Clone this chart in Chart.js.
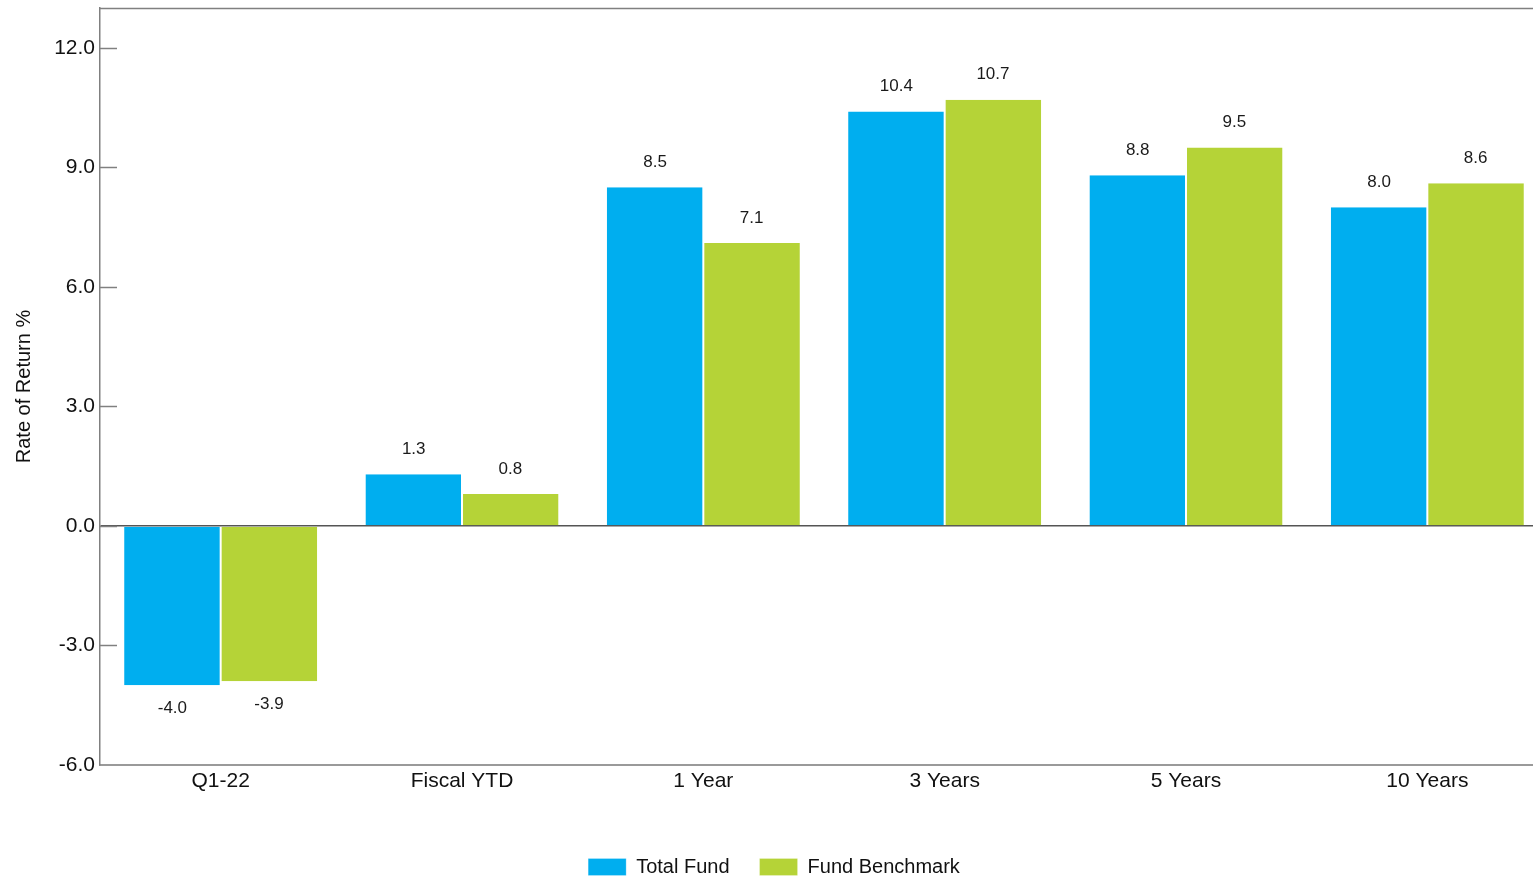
<!DOCTYPE html>
<html>
<head>
<meta charset="utf-8">
<script src="https://cdn.jsdelivr.net/npm/chart.js@4/dist/chart.umd.min.js"></script>
<style>
  html, body { margin: 0; padding: 0; background: #fff; overflow: hidden; }
  #wrap { width: 1548px; height: 879px; position: relative; }
</style>
</head>
<body>
<div id="wrap"><canvas id="chart"></canvas></div>
<script>
// Periods shown along the x axis
const periods = ['Q1-22', 'Fiscal YTD', '1 Year', '3 Years', '5 Years', '10 Years'];
// Rates of return (%) per period
const totalFund = [-4.0, 1.3, 8.5, 10.4, 8.8, 8.0];
const fundBenchmark = [-3.9, 0.8, 7.1, 10.7, 9.5, 8.6];
// Value axis range and tick step
const yMin = -6;
const yMax = 13;
const yStep = 3;

const FONT = '"Liberation Sans", Arial, sans-serif';

// Short inward tick marks on the value axis plus the top frame line
const frameAndTicks = {
  id: 'frameAndTicks',
  afterDraw(chart) {
    const { ctx, chartArea } = chart;
    const y = chart.scales.y;
    ctx.save();
    ctx.strokeStyle = '#808080';
    ctx.lineWidth = 1.5;
    y.ticks.forEach(t => {
      if (t.value === yMin) return;
      const py = Math.round(y.getPixelForValue(t.value)) + 0.5;
      ctx.beginPath();
      ctx.moveTo(chartArea.left, py);
      ctx.lineTo(chartArea.left + 17, py);
      ctx.stroke();
    });
    ctx.beginPath();
    ctx.moveTo(chartArea.left, chartArea.top + 0.5);
    ctx.lineTo(chartArea.right, chartArea.top + 0.5);
    ctx.stroke();
    ctx.restore();
  }
};

// Value labels above positive bars and below negative ones
const valueLabels = {
  id: 'valueLabels',
  afterDatasetsDraw(chart) {
    const { ctx } = chart;
    ctx.save();
    ctx.font = '17px ' + FONT;
    ctx.fillStyle = '#1a1a1a';
    ctx.textAlign = 'center';
    ctx.textBaseline = 'middle';
    chart.data.datasets.forEach((ds, i) => {
      chart.getDatasetMeta(i).data.forEach((bar, j) => {
        const v = ds.data[j];
        const ty = v >= 0 ? bar.y - 25 : bar.y + 23;
        ctx.fillText(v.toFixed(1), bar.x, ty);
      });
    });
    ctx.restore();
  }
};

new Chart(document.getElementById('chart'), {
  type: 'bar',
  data: {
    labels: periods,
    datasets: [
      {
        label: 'Total Fund',
        data: totalFund,
        backgroundColor: '#00AEEF',
        borderColor: '#ffffff',
        borderWidth: { right: 1 },
        borderSkipped: false,
        categoryPercentage: 0.8,
        barPercentage: 1.0
      },
      {
        label: 'Fund Benchmark',
        data: fundBenchmark,
        backgroundColor: '#B5D337',
        borderColor: '#ffffff',
        borderWidth: { left: 1 },
        borderSkipped: false,
        categoryPercentage: 0.8,
        barPercentage: 1.0
      }
    ]
  },
  options: {
    responsive: true,
    maintainAspectRatio: false,
    animation: false,
    layout: { padding: { top: 8, right: 0, left: 0, bottom: -8 } },
    plugins: {
      tooltip: { enabled: false },
      legend: {
        position: 'bottom',
        labels: {
          boxWidth: 38,
          boxHeight: 17,
          padding: 30,
          color: '#111',
          font: { family: FONT, size: 20 }
        }
      }
    },
    scales: {
      x: {
        grid: { display: false },
        border: { display: true, color: '#9a9a9a', width: 2 },
        ticks: {
          color: '#111',
          padding: -4,
          font: { family: FONT, size: 21 }
        },
        afterFit(scale) {
          scale.height = 62;
          scale.paddingLeft = 0;
          scale.paddingRight = 0;
        }
      },
      y: {
        min: yMin,
        max: yMax,
        afterBuildTicks(scale) {
          scale.ticks = scale.ticks.filter(t => t.value % yStep === 0);
        },
        ticks: {
          stepSize: yStep,
          color: '#111',
          padding: 5,
          font: { family: FONT, size: 21 },
          callback: v => v.toFixed(1)
        },
        grid: {
          drawTicks: false,
          color: ctx => (ctx.tick && ctx.tick.value === 0) ? '#555' : 'rgba(0,0,0,0)',
          lineWidth: 1.5
        },
        border: { display: true, color: '#808080', width: 1.5 },
        title: {
          display: true,
          text: 'Rate of Return %',
          color: '#111',
          font: { family: FONT, size: 20 },
          padding: { top: 12, bottom: 0 }
        },
        afterFit(scale) {
          scale.width = 100;
          scale.paddingTop = 0;
          scale.paddingBottom = 0;
        }
      }
    }
  },
  plugins: [frameAndTicks, valueLabels]
});
</script>
</body>
</html>
